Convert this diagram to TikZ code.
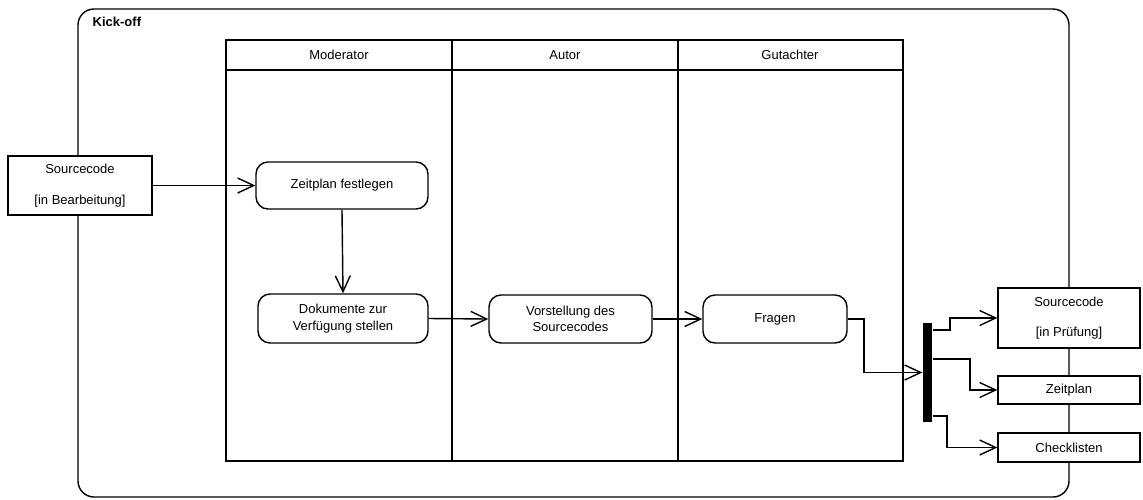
\documentclass[tikz,border=0pt]{standalone}
\usepackage{fontspec}
\setmainfont{Liberation Sans}
\usetikzlibrary{arrows.meta,calc}
\begin{document}
\begin{tikzpicture}[x=1pt,y=-1pt,
  line width=1.4pt,
  txt/.style={font=\fontsize{13}{16.5}\selectfont},
  action/.style={draw, rounded corners=12pt, fill=white, align=center, inner sep=0pt, txt},
  obj/.style={draw, fill=white, align=center, inner sep=0pt, txt},
  flow/.style={-{Straight Barb[length=16pt,width=15pt,line width=1.4pt]}},
]
\useasboundingbox (0,0) rectangle (1143,499);

% activity frame
\draw[rounded corners=16pt] (78,497) rectangle (1069,9);
\node[anchor=west, inner sep=0pt, font=\bfseries\fontsize{13}{15}\selectfont] (title) at (92,22) {Kick-off};

% swimlanes
\draw (226,40) rectangle (903,461);
\draw (226,70) -- (903,70);
\draw (452,40) -- (452,461);
\draw (678,40) -- (678,461);
\node[txt] (hmod) at (339,55) {Moderator};
\node[txt] (haut) at (565,55) {Autor};
\node[txt] (hgut) at (790,55) {Gutachter};

% object nodes
\node[obj, minimum width=144pt, minimum height=59pt] (src1) at (80,185.5)
  {Sourcecode\\[14pt][in Bearbeitung]};
\node[obj, minimum width=142pt, minimum height=60pt] (src2) at (1069,318)
  {Sourcecode\\[13pt][in Prüfung]};
\node[obj, minimum width=142pt, minimum height=28pt] (zp) at (1069,390) {Zeitplan};
\node[obj, minimum width=142pt, minimum height=29pt] (cl) at (1069,447.5) {Checklisten};

% actions
\node[action, minimum width=172pt, minimum height=47pt] (zeit) at (342,185.5) {Zeitplan festlegen};
\node[action, minimum width=170pt, minimum height=49pt] (doku) at (343,318.5) {Dokumente zur\\Verfügung stellen};
\node[action, minimum width=163pt, minimum height=48pt] (vor) at (570.5,319) {Vorstellung des\\Sourcecodes};
\node[action, minimum width=144pt, minimum height=48pt] (frag) at (775,319) {Fragen};

% fork bar
\node[fill=black, inner sep=0pt, minimum width=9pt, minimum height=99pt] (bar) at (927.5,372.5) {};

% flows
\draw[flow] (src1.east |- zeit.west) -- (zeit.west);
\draw[flow] (zeit.south) -- (doku.north);
\draw[flow] (doku.east) -- (vor.west);
\draw[flow] (vor.east) -- (frag.west);
\draw[flow] (frag.east) -- (864,319) |- (bar.west);
\draw[flow] ($(bar.east)+(0,-42.5)$) -- (950,330) |- (src2.west);
\draw[flow] ($(bar.east)+(0,-13.5)$) -- (970,359) |- (zp.west);
\draw[flow] ($(bar.east)+(0,43.5)$) -- (947,416) |- (cl.west);
\end{tikzpicture}
\end{document}
